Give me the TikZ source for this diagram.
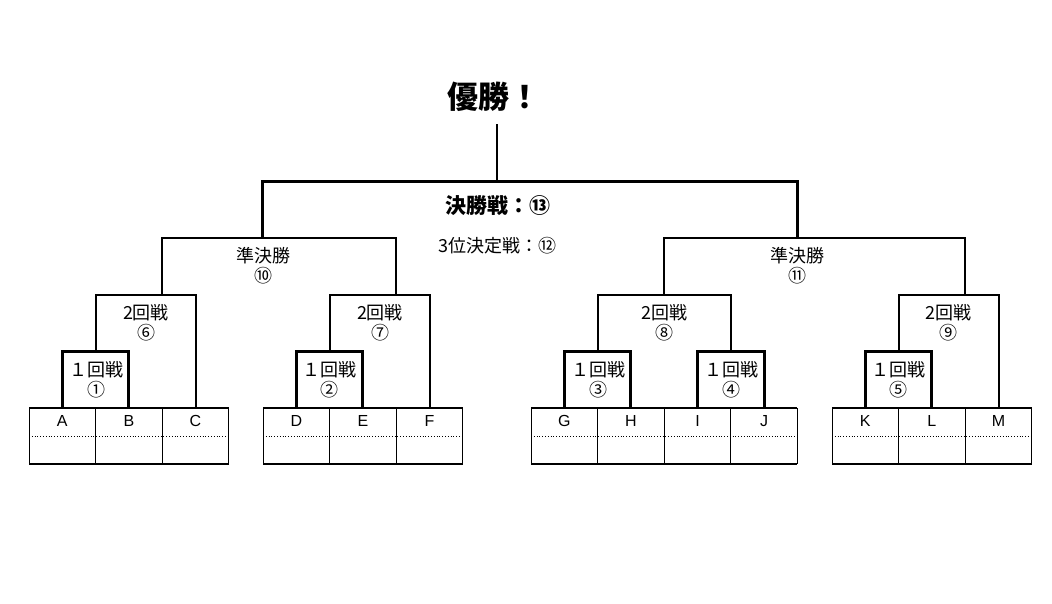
\documentclass[tikz,border=0pt]{standalone}
\usepackage{fontspec}
\setmainfont{Noto Sans CJK JP}
\newfontfamily\latinfont{Liberation Sans}
\usetikzlibrary{positioning}

\begin{document}
\begin{tikzpicture}[x=1pt, y=-1pt, line join=miter,
  rfirst/.style={line width=3pt},
  rsecond/.style={line width=2pt},
  rsemi/.style={line width=2.5pt},
  rfinal/.style={line width=3pt},
  lbl/.style={font=\fontsize{18}{20}\selectfont, align=center, inner sep=0pt},
  letter/.style={font=\latinfont\fontsize{16}{16}\selectfont, inner sep=0pt}]

\useasboundingbox (0,0) rectangle (1052,603);

% entry cells
\foreach \gx/\gn in {29/3, 263/3, 531/4, 832/3}{
  \draw[line width=2pt] (\gx,408) -- ++(\gn*66.6,0);
  \draw[line width=1.5pt] (\gx,464) -- ++(\gn*66.6,0);
  \draw[dotted, line width=0.8pt] (\gx,436) -- ++(\gn*66.6,0);
  \foreach \i in {0,...,\gn}
    \draw[line width=1pt] (\gx+\i*66.6,408) -- (\gx+\i*66.6,464);
}

\foreach \nm/\cx in {A/62.3, B/128.9, C/195.5, D/296.3, E/362.9, F/429.5,
    G/564.3, H/630.9, I/697.5, J/764.1, K/865.3, L/931.9, M/998.5}{
  \node[letter] (\nm) at (\cx,421) {\nm};
  \coordinate (t\nm) at (\cx,408);
}

% bracket corners
\coordinate (w1) at (95.6,351);
\coordinate (w2) at (329.6,351);
\coordinate (w3) at (597.6,351);
\coordinate (w4) at (730.8,351);
\coordinate (w5) at (898.6,351);
\coordinate (w6) at (162.2,295);
\coordinate (w7) at (396.2,295);
\coordinate (w8) at (664.2,295);
\coordinate (w9) at (965.2,295);
\coordinate (w10) at (262,238);
\coordinate (w11) at (797,238);
\coordinate (w13) at (497,181);
\coordinate (top) at (497,124);

% 1st round
\draw[rfirst] (tA) |- (w1) -| (tB); %1
\draw[rfirst] (tD) |- (w2) -| (tE); %2
\draw[rfirst] (tG) |- (w3) -| (tH); %3
\draw[rfirst] (tI) |- (w4) -| (tJ); %4
\draw[rfirst] (tK) |- (w5) -| (tL); %5

% 2nd round
\draw[rsecond] (w1) |- (w6) -| (tC); %6
\draw[rsecond] (w2) |- (w7) -| (tF); %7
\draw[rsecond] (w3) |- (w8) -| (w4); %8
\draw[rsecond] (w5) |- (w9) -| (tM); %9

% semifinals, final
\draw[rsemi] (w6) |- (w10) -| (w7); %10
\draw[rsemi] (w8) |- (w11) -| (w9); %11
\draw[rfinal] (w10) |- (w13) -| (w11); %13
\draw[line width=2pt] (w13) -- (top);

% labels
\node[font=\fontsize{31}{31}\selectfont\bfseries, inner sep=0pt] (champ) at (494,97) {優勝！};
\node[font=\fontsize{21}{21}\selectfont\bfseries, inner sep=0pt] (m13) at (498,206) {決勝戦：⑬};
\node[lbl] (m12) at (497,246) {3位決定戦：⑫};
\node[lbl] (m10) at (263,266) {準決勝\\⑩};
\node[lbl] (m11) at (797,266) {準決勝\\⑪};
\node[lbl] (m6) at (146,323) {2回戦\\⑥};
\node[lbl] (m7) at (380,323) {2回戦\\⑦};
\node[lbl] (m8) at (664,323) {2回戦\\⑧};
\node[lbl] (m9) at (948,323) {2回戦\\⑨};
\node[lbl] (m1) at (96,380) {１回戦\\①};
\node[lbl] (m2) at (329,380) {１回戦\\②};
\node[lbl] (m3) at (598,380) {１回戦\\③};
\node[lbl] (m4) at (731,380) {１回戦\\④};
\node[lbl] (m5) at (898,380) {１回戦\\⑤};

\end{tikzpicture}
\end{document}
